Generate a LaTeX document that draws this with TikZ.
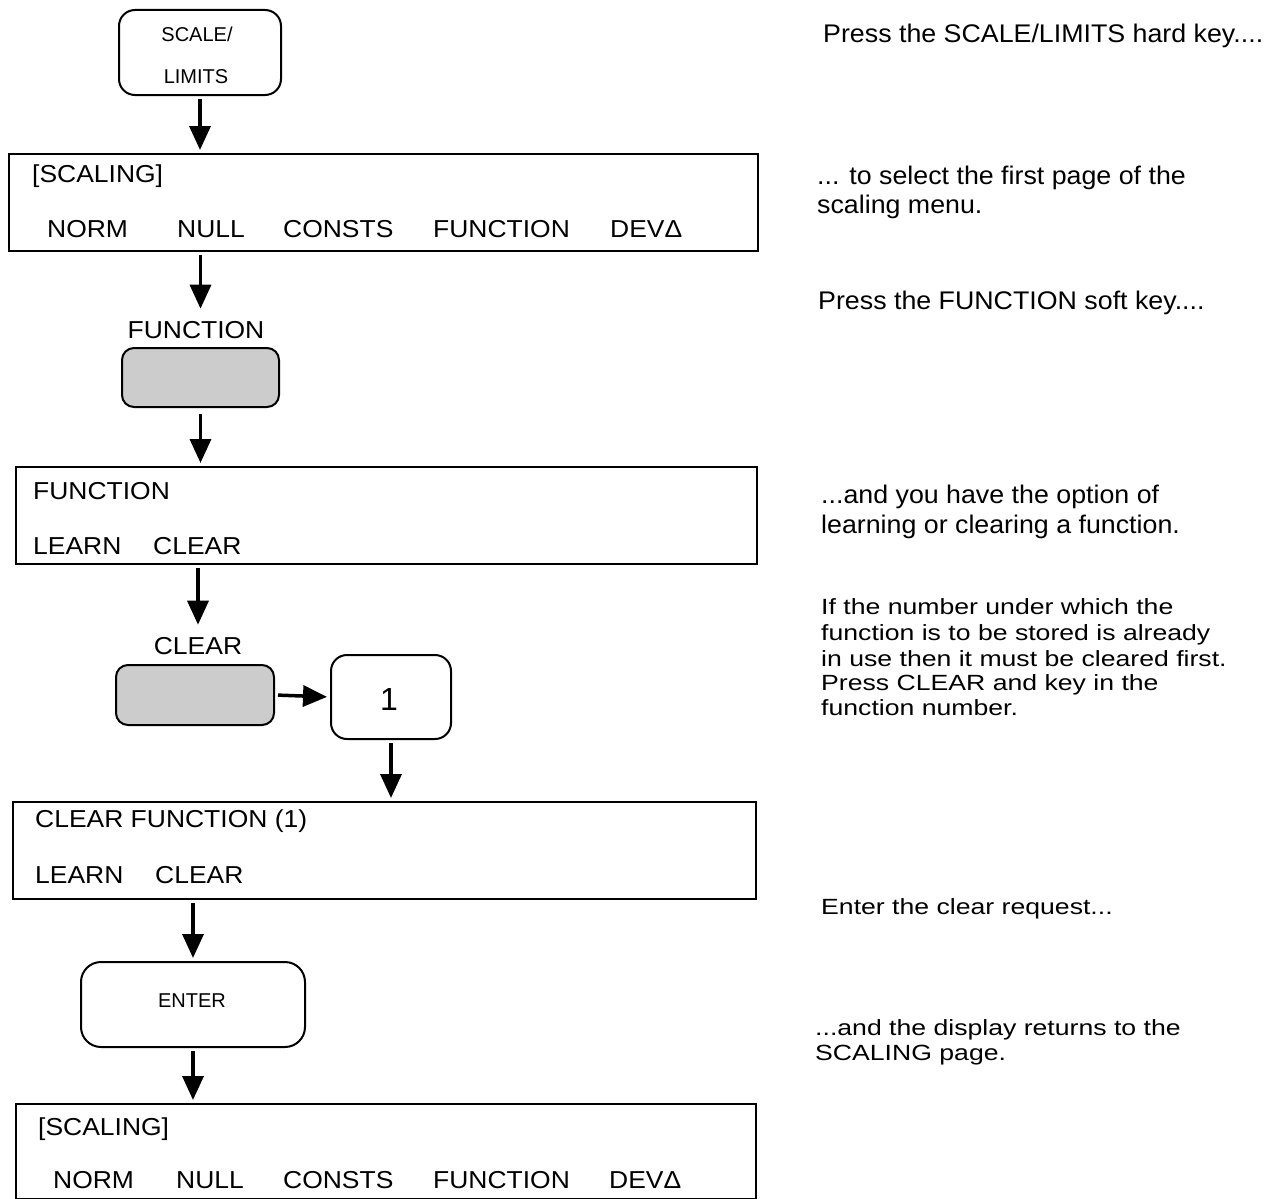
\documentclass[tikz,border=0pt]{standalone}
\usepackage{fontspec}
\setmainfont{Liberation Sans}
\usetikzlibrary{arrows.meta}
\newcommand\rtxt[1]{{\fontsize{25.5}{30}\selectfont\scalebox{1.05}[1]{#1}}}
\newcommand\ptxt[1]{{\fontsize{22}{26}\selectfont\scalebox{1.21}[1]{#1}}}
\newcommand\btxt[1]{{\fontsize{24.5}{30}\selectfont\scalebox{1.08}[1]{#1}}}
\newcommand\ktxt[1]{{\fontsize{20}{24}\selectfont #1}}
\begin{document}
\begin{tikzpicture}[x=1pt,y=-1pt]
\tikzset{
  disp/.style={draw, line width=2pt, rectangle, anchor=north west, inner sep=0pt},
  hkey/.style={draw, line width=2pt, rounded corners=16pt, anchor=north west, inner sep=0pt},
  skey/.style={draw, line width=2pt, rounded corners=12pt, fill=black!20, anchor=north west, inner sep=0pt},
  txt/.style={anchor=base west, inner sep=0pt},
  ctxt/.style={anchor=base, inner sep=0pt},
  arr/.style={line width=3.5pt, -{Triangle[length=24pt,width=21pt]}, shorten <=3pt, shorten >=3pt},
}
\useasboundingbox (0,0) rectangle (1282,1199);

% SCALE/LIMITS hard key
\node[hkey, minimum width=162pt, minimum height=85pt] (sl) at (118,9) {};
\node[ctxt] (slA) at (197,42) {\ktxt{SCALE/}};
\node[ctxt] (slB) at (196,83) {\ktxt{LIMITS}};

% Display A
\node[disp, minimum width=749pt, minimum height=97pt] (A) at (8,153) {};
\node[txt] (A1) at (32,182) {\btxt{[SCALING]}};
\node[txt] (A2) at (47,237) {\btxt{NORM}};
\node[txt] (A3) at (177,237) {\btxt{NULL}};
\node[txt] (A4) at (283,237) {\btxt{CONSTS}};
\node[txt] (A5) at (433,237) {\btxt{FUNCTION}};
\node[txt] (A6) at (610,237) {\btxt{DEVΔ}};

% FUNCTION soft key
\node[ctxt] (flabel) at (196,338) {\btxt{FUNCTION}};
\node[skey, minimum width=157pt, minimum height=59pt] (fkey) at (121,347) {};

% Display B
\node[disp, minimum width=741pt, minimum height=97pt] (B) at (15,466) {};
\node[txt] (B1) at (33,499) {\btxt{FUNCTION}};
\node[txt] (B2) at (33,554) {\btxt{LEARN}};
\node[txt] (B3) at (153,554) {\btxt{CLEAR}};

% CLEAR soft key and number key
\node[ctxt] (clabel) at (198,654) {\btxt{CLEAR}};
\node[skey, minimum width=158pt, minimum height=60pt] (ckey) at (115,664) {};
\node[hkey, minimum width=120pt, minimum height=84pt] (one) at (330,654) {};
\node[ctxt] (oneT) at (389,710) {{\fontsize{32}{36}\selectfont 1}};

% Display C
\node[disp, minimum width=743pt, minimum height=97pt] (C) at (12,801) {};
\node[txt] (C1) at (35,827) {\btxt{CLEAR FUNCTION (1)}};
\node[txt] (C2) at (35,883) {\btxt{LEARN}};
\node[txt] (C3) at (155,883) {\btxt{CLEAR}};

% ENTER key
\node[hkey, rounded corners=20pt, minimum width=224pt, minimum height=85pt] (enter) at (80,961) {};
\node[ctxt] (enterT) at (192,1007) {\ktxt{ENTER}};

% Display D
\node[disp, minimum width=740pt, minimum height=95pt] (D) at (15,1103) {};
\node[txt] (D1) at (38,1135) {\btxt{[SCALING]}};
\node[txt] (D2) at (53,1188) {\btxt{NORM}};
\node[txt] (D3) at (176,1188) {\btxt{NULL}};
\node[txt] (D4) at (283,1188) {\btxt{CONSTS}};
\node[txt] (D5) at (433,1188) {\btxt{FUNCTION}};
\node[txt] (D6) at (609,1188) {\btxt{DEVΔ}};

% Connectors
\draw[arr] (sl.south) -- (sl.south |- A.north);
\draw[arr, shorten >=12pt] (A.south -| fkey) -- (flabel.north -| fkey);
\draw[arr, shorten <=6pt] (fkey.south) -- (fkey.south |- B.north);
\draw[arr, shorten >=12pt] (B.south -| clabel) -- (clabel.north);
\draw[arr] (ckey.east) -- (one.west);
\draw[arr] (one.south) -- (one.south |- C.north);
\draw[arr] (C.south -| enter) -- (enter.north);
\draw[arr] (enter.south) -- (enter.south |- D.north);

% Explanations
\node[txt] (r1) at (823,43) {\rtxt{Press the SCALE/LIMITS hard key....}};
\node[txt] (r2a) at (817,184) {\rtxt{... to select the first page of the}};
\node[txt] (r2b) at (817,213) {\rtxt{scaling menu.}};
\node[txt] (r3) at (818,309) {\rtxt{Press the FUNCTION soft key....}};
\node[txt] (r4a) at (821,503) {\rtxt{...and you have the option of}};
\node[txt] (r4b) at (821,533) {\rtxt{learning or clearing a function.}};
\node[txt] (r5a) at (821,614) {\ptxt{If the number under which the}};
\node[txt] (r5b) at (821,640) {\ptxt{function is to be stored is already}};
\node[txt] (r5c) at (821,666) {\ptxt{in use then it must be cleared first.}};
\node[txt] (r5d) at (821,690) {\ptxt{Press CLEAR and key in the}};
\node[txt] (r5e) at (821,715) {\ptxt{function number.}};
\node[txt] (r6) at (821,914) {\ptxt{Enter the clear request...}};
\node[txt] (r7a) at (815,1035) {\ptxt{...and the display returns to the}};
\node[txt] (r7b) at (815,1060) {\ptxt{SCALING page.}};
\end{tikzpicture}
\end{document}
